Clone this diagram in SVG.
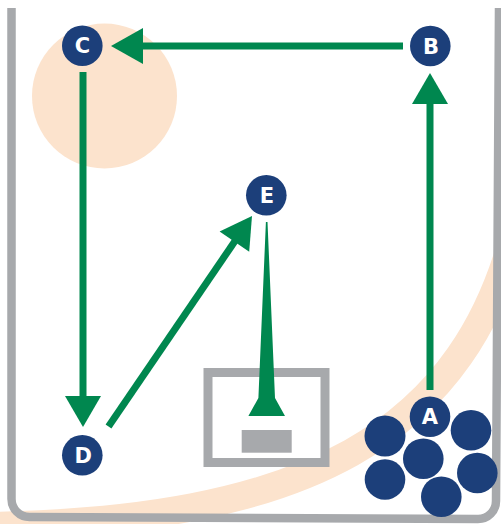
<svg xmlns="http://www.w3.org/2000/svg" width="501" height="524" viewBox="0 0 501 524">
  <style>
    .court { fill: none; stroke: #a7a9ac; }
    .zone { fill: #fce3cd; }
    .arc { fill: none; stroke: #fce3cd; stroke-width: 28; }
    .link { fill: none; stroke: #00874f; stroke-width: 7; }
    .head { fill: #00874f; }
    .spot { fill: #1c3f7a; }
    .label { fill: #ffffff; font-family: "DejaVu Sans", "Liberation Sans", sans-serif; font-weight: bold; font-size: 21px; text-anchor: middle; }
  </style>

  <rect width="501" height="524" fill="#ffffff"/>

  <!-- shaded zones -->
  <g id="zones">
    <path class="arc" d="M-20,526 C300,522 470,440 520,210"/>
    <circle class="zone" cx="104.5" cy="96" r="72.5"/>
  </g>

  <!-- court outline (open at the top) -->
  <path id="court" class="court" stroke-width="8.5" d="M11.5,8 L11.5,499 A18,18 0 0 0 29.5,517 L478,519 A18,18 0 0 0 496,501 L499,8"/>

  <!-- backboard / box -->
  <g id="box">
    <rect x="208" y="372.5" width="117" height="90" fill="#ffffff" stroke="#a7a9ac" stroke-width="9"/>
    <rect x="241.7" y="430" width="50" height="22.7" fill="#a7a9ac"/>
  </g>

  <!-- connectors -->
  <g id="connectors">
    <!-- A to B -->
    <line class="link" x1="430" y1="390" x2="430" y2="103"/>
    <polygon class="head" points="430,73 412,104 448,104"/>
    <!-- B to C -->
    <line class="link" x1="403" y1="46" x2="142" y2="46"/>
    <polygon class="head" points="111,46 143,28 143,64"/>
    <!-- C to D -->
    <line class="link" x1="83" y1="72" x2="83" y2="397"/>
    <polygon class="head" points="83,427 65,396 101,396"/>
    <!-- D to E -->
    <line class="link" x1="108.5" y1="426.5" x2="235" y2="241"/>
    <polygon class="head" points="252,216 249.2,251.8 219.6,231.4"/>
    <!-- E to box: tapered pass -->
    <polygon class="head" points="265.9,222 267.5,222 275,398 285,416 248.4,416 258.4,398"/>
  </g>

  <!-- lettered spots -->
  <g id="node-A">
    <circle class="spot" cx="430" cy="416.7" r="20.3"/>
    <text class="label" x="430" y="424.3">A</text>
  </g>
  <g id="node-B">
    <circle class="spot" cx="430.3" cy="46" r="20.3"/>
    <text class="label" x="431" y="53.6">B</text>
  </g>
  <g id="node-C">
    <circle class="spot" cx="82.3" cy="45.7" r="20.3"/>
    <text class="label" x="82.5" y="53.3">C</text>
  </g>
  <g id="node-D">
    <circle class="spot" cx="82.3" cy="455.3" r="20.3"/>
    <text class="label" x="83.3" y="462.9">D</text>
  </g>
  <g id="node-E">
    <circle class="spot" cx="266.3" cy="195.3" r="20.3"/>
    <text class="label" x="267" y="202.9">E</text>
  </g>

  <!-- waiting group around A -->
  <g id="group-A">
    <circle class="spot" cx="385" cy="436" r="20.5"/>
    <circle class="spot" cx="471" cy="430.3" r="20.3"/>
    <circle class="spot" cx="423.3" cy="458.7" r="20.3"/>
    <circle class="spot" cx="385" cy="479.5" r="20.3"/>
    <circle class="spot" cx="477.3" cy="473" r="20.3"/>
    <circle class="spot" cx="441.3" cy="496.7" r="20.3"/>
  </g>
</svg>
